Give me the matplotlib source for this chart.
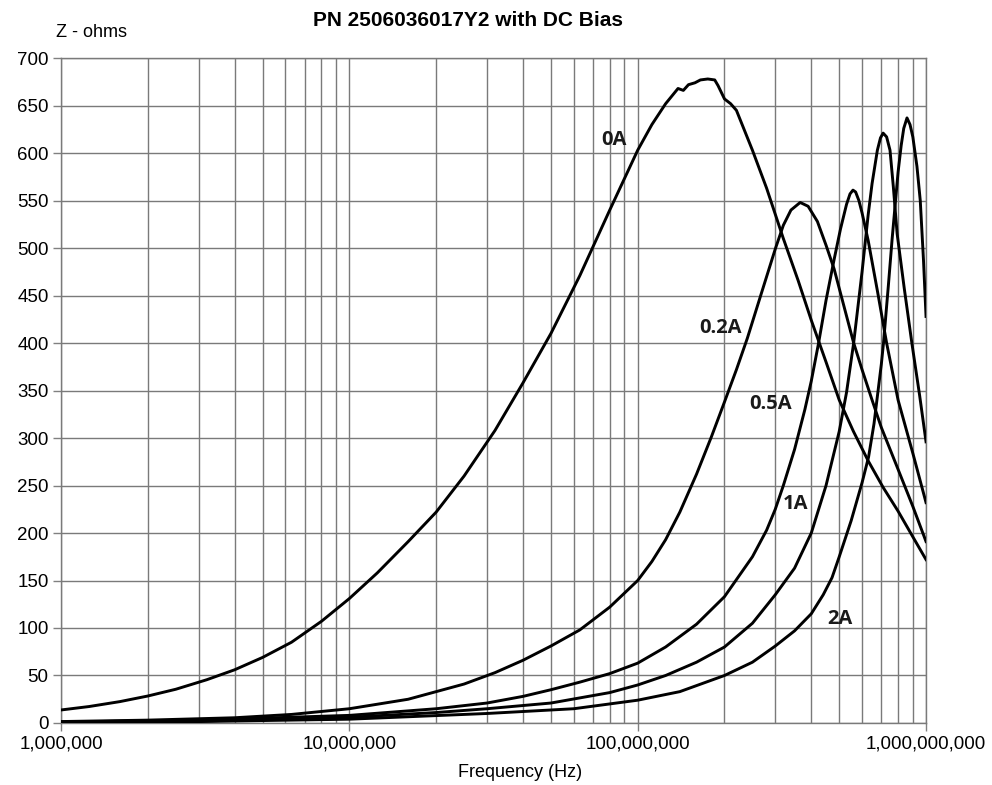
import matplotlib
matplotlib.use("Agg")
import matplotlib.pyplot as plt
from matplotlib.ticker import FixedLocator, NullFormatter

title = "PN 2506036017Y2 with DC Bias"

# values: frequency in Hz, impedance in ohms
freq_0a = [1e6, 1.25e6, 1.6e6, 2e6, 2.5e6, 3.2e6, 4e6, 5e6, 6.3e6, 8e6,
           1e7, 1.25e7, 1.6e7, 2e7, 2.5e7, 3.2e7, 4e7, 5e7, 6.3e7, 8e7,
           1e8, 1.12e8, 1.25e8, 1.38e8, 1.44e8, 1.5e8, 1.58e8, 1.65e8,
           1.75e8, 1.85e8, 1.9e8, 2e8, 2.1e8, 2.2e8, 2.5e8, 2.8e8, 3.2e8,
           3.6e8, 4e8, 4.5e8, 5e8, 5.6e8, 6.3e8, 7.1e8, 8e8, 9e8, 1e9]
z_0a = [13.7, 17.3, 22.5, 28.4, 35.5, 45.5, 56, 69, 85, 107,
        131, 158, 191, 222, 260, 308, 358, 410, 471, 540,
        603, 630, 652, 668, 666, 672, 674, 677,
        678, 677, 671, 657, 652, 645, 603, 563, 510,
        466, 424, 380, 340, 307, 276, 248, 223, 196, 172]

freq_02a = [1e6, 2e6, 4e6, 6.3e6, 1e7, 1.6e7, 2e7, 2.5e7, 3.2e7, 4e7, 5e7,
            6.3e7, 8e7, 1e8, 1.12e8, 1.25e8, 1.4e8, 1.6e8, 1.8e8, 2e8,
            2.2e8, 2.4e8, 2.67e8, 3e8, 3.2e8, 3.4e8, 3.66e8, 3.9e8, 4.2e8,
            4.5e8, 4.8e8, 5.2e8, 5.6e8, 6e8, 6.5e8, 7e8, 8e8, 9e8, 1e9]
z_02a = [1.5, 3, 5.5, 9, 15, 25, 33, 41, 53, 66, 81,
         98, 122, 150, 170, 193, 222, 262, 301, 338,
         372, 405, 450, 499, 524, 540, 548, 544, 528,
         503, 478, 438, 401, 372, 340, 311, 267, 228, 191]

freq_05a = [1e6, 3e6, 1e7, 2e7, 3e7, 4e7, 5e7, 6.3e7, 8e7, 1e8, 1.25e8,
            1.6e8, 2e8, 2.5e8, 2.8e8, 3e8, 3.2e8, 3.5e8, 3.8e8, 4e8,
            4.24e8, 4.5e8, 4.8e8, 5.05e8, 5.3e8, 5.45e8, 5.58e8, 5.7e8,
            5.85e8, 6e8, 6.3e8, 6.8e8, 7.3e8, 8e8, 9e8, 1e9]
z_05a = [1, 3, 8, 15, 21, 28, 35, 43, 52, 63, 80,
         104, 133, 175, 203, 225, 250, 288, 330, 360,
         400, 445, 488, 520, 546, 557, 561, 559,
         550, 537, 508, 453, 400, 340, 284, 232]

freq_1a = [1e6, 3e6, 1e7, 2e7, 3e7, 5e7, 8e7, 1e8, 1.25e8, 1.6e8, 2e8,
           2.5e8, 3e8, 3.5e8, 4e8, 4.5e8, 5e8, 5.3e8, 5.61e8, 6e8, 6.3e8,
           6.5e8, 6.78e8, 6.95e8, 7.1e8, 7.3e8, 7.5e8, 7.7e8, 7.94e8,
           8.4e8, 8.93e8, 9.5e8, 1e9]
z_1a = [0.7, 2, 6, 11, 15, 21, 32, 40, 50, 64, 80,
        105, 135, 163, 200, 250, 307, 348, 400, 475, 535,
        568, 603, 616, 621, 617, 603, 565, 515,
        458, 400, 345, 296]

freq_2a = [1e6, 3e6, 1e7, 3e7, 6e7, 1e8, 1.4e8, 2e8, 2.5e8, 3e8, 3.5e8,
           4e8, 4.4e8, 4.72e8, 5e8, 5.5e8, 6e8, 6.32e8, 6.6e8, 7e8, 7.12e8,
           7.4e8, 7.63e8, 8e8, 8.2e8, 8.37e8, 8.59e8, 8.8e8, 9e8, 9.3e8,
           9.55e8, 9.8e8, 1e9]
z_2a = [0.5, 1.5, 4, 10, 15, 24, 33, 50, 64, 81, 97,
        115, 135, 153, 175, 213, 253, 280, 315, 378, 400,
        460, 510, 580, 608, 626, 637, 630, 617, 586,
        550, 487, 428]

labels = ["0A", "0.2A", "0.5A", "1A", "2A"]
label_freq = [8.3e7, 1.93e8, 2.9e8, 3.52e8, 5.04e8]
label_z = [614, 416, 336, 231, 109]

x_ticks = [1e6, 1e7, 1e8, 1e9]
x_tick_labels = ["1,000,000", "10,000,000", "100,000,000", "1,000,000,000"]
y_ticks = list(range(0, 701, 50))


def main():
    plt.rcParams['font.family'] = ['Liberation Sans', 'DejaVu Sans']
    fig = plt.figure(figsize=(9.92, 7.85), dpi=100)
    ax = fig.add_axes([0.0615, 0.079, 0.872, 0.847])

    series = [(freq_0a, z_0a), (freq_02a, z_02a), (freq_05a, z_05a),
              (freq_1a, z_1a), (freq_2a, z_2a)]
    for f, z in series:
        ax.plot(f, z, color='black', lw=2.1, solid_joinstyle='round',
                zorder=3)

    for name, f, z in zip(labels, label_freq, label_z):
        ax.text(f, z, name, fontsize=14.5, fontweight='bold',
                family=['Open Sans', 'DejaVu Sans'], color='#1a1a1a',
                ha='center', va='center', zorder=4)

    ax.set_xscale('log')
    ax.set_xlim(1e6, 1e9)
    ax.set_ylim(0, 700)
    ax.set_xticks(x_ticks, labels=x_tick_labels)
    minor = [m * d for d in (1e6, 1e7, 1e8) for m in range(2, 10)]
    ax.xaxis.set_minor_locator(FixedLocator(minor))
    ax.xaxis.set_minor_formatter(NullFormatter())
    ax.set_yticks(y_ticks)
    ax.tick_params(axis='both', which='major', labelsize=13.5,
                   color='#808080', length=6, width=1, pad=3)
    ax.tick_params(axis='x', which='minor', length=0)
    ax.grid(True, which='both', color='#7a7a7a', lw=1.0)
    ax.set_axisbelow(True)
    for s in ax.spines.values():
        s.set_color('#7a7a7a')
        s.set_linewidth(1.0)

    fig.text(0.472, 0.974, title, fontsize=15, fontweight='bold',
             ha='center', va='center')
    fig.text(0.056, 0.958, "Z - ohms", fontsize=13, ha='left', va='center')
    fig.text(0.524, 0.0153, "Frequency (Hz)", fontsize=13, ha='center',
             va='center')

    fig.savefig("out.png", dpi=100)


if __name__ == "__main__":
    main()
